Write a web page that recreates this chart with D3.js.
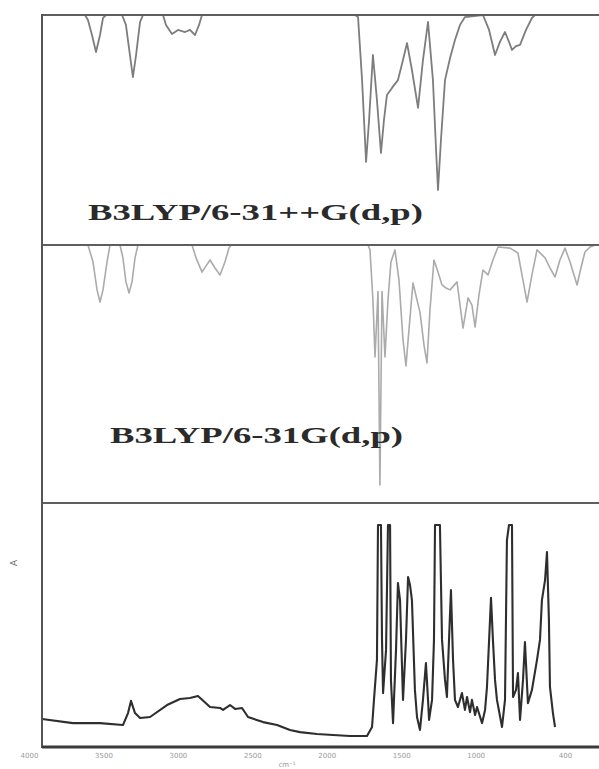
<!DOCTYPE html>
<html>
<head>
<meta charset="utf-8">
<script src="https://cdn.jsdelivr.net/npm/d3@7"></script>
<style>
  body { margin: 0; background: #fff; }
  #chart svg { display: block; }
</style>
</head>
<body>
<div id="chart"></div>
<script>
const chartWidth = 599;
const chartHeight = 769;

// panel labels and axis ticks
const labels = ["B3LYP/6-31++G(d,p)", "B3LYP/6-31G(d,p)"];
const tickValues = [4000, 3500, 3000, 2500, 2000, 1500, 1000, 400];

// calculated spectrum, 6-31++G(d,p): wavenumber (cm-1) / depth (% of panel)
const wn1 = [3913, 3624, 3604, 3577, 3550, 3523, 3503, 3483, 3375, 3349, 3322, 3302, 3281, 3254, 3234,
  3100, 3080, 3040, 2999, 2952, 2919, 2885, 2858, 2838, 1810, 1790, 1763, 1736, 1716, 1690, 1663, 1636,
  1616, 1596, 1562, 1522, 1488, 1461, 1428, 1387, 1354, 1320, 1287, 1266, 1253, 1233, 1206, 1172, 1139,
  1105, 1072, 951, 910, 870, 837, 803, 776, 756, 729, 702, 662, 622, 602, 172];
const depth1 = [0, 0, 2.2, 8.7, 16.1, 8.7, 1.3, 0, 0, 4.3, 17.4, 27.0, 17.4, 3.0, 0,
  0, 4.3, 8.3, 6.5, 7.4, 6.5, 8.7, 4.3, 0, 0, 0.9, 28.3, 63.9, 45.7, 17.4, 37.0, 60.0,
  45.7, 34.8, 31.7, 28.3, 19.6, 12.2, 23.9, 40.4, 19.6, 3.0, 28.3, 58.7, 76.1, 54.3, 28.3, 18.7, 10.9,
  4.3, 0.9, 0, 6.5, 17.4, 11.7, 7.4, 11.7, 15.2, 13.5, 13.0, 6.5, 1.3, 0, 0];

// calculated spectrum, 6-31G(d,p)
const wn2 = [3913, 3604, 3570, 3543, 3523, 3503, 3476, 3456, 3389, 3369, 3349, 3328, 3308, 3288, 3268,
  2905, 2878, 2838, 2811, 2784, 2751, 2717, 2684, 2657, 2643, 1723, 1710, 1690, 1676, 1656, 1643, 1629,
  1609, 1589, 1569, 1542, 1515, 1488, 1468, 1448, 1421, 1394, 1374, 1347, 1327, 1307, 1280, 1253, 1226,
  1199, 1172, 1125, 1105, 1085, 1051, 1025, 1004, 978, 951, 917, 884, 850, 769, 716, 689, 655, 622, 588,
  534, 501, 467, 434, 400, 366, 319, 293, 266, 232, 199, 172];
const depth2 = [0, 0, 6.6, 17.4, 22.1, 17.4, 6.6, 0, 0, 5.0, 14.3, 18.6, 14.3, 5.0, 0,
  0, 5.0, 10.5, 8.1, 5.8, 8.9, 11.6, 6.6, 1.2, 0, 0, 1.9, 21.3, 43.4, 18.0, 93.0, 18.0,
  43.4, 21.3, 6.6, 1.9, 13.6, 36.8, 46.9, 32.9, 14.7, 21.3, 26.0, 38.8, 45.7, 25.2, 5.8, 10.5, 15.5,
  16.7, 17.4, 14.3, 23.3, 32.2, 20.5, 23.3, 31.8, 19.4, 9.7, 11.6, 5.8, 0.8, 1.2, 3.1, 11.6, 22.1, 11.6, 1.9,
  5.0, 8.9, 12.4, 5.8, 1.2, 6.6, 15.5, 8.9, 2.7, 0.8, 0, 0];

// experimental spectrum: wavenumber / absorbance (% of panel)
const wn3 = [3913, 3705, 3523, 3369, 3335, 3315, 3288, 3254, 3187, 3073, 2986, 2919, 2865, 2784, 2717,
  2697, 2650, 2616, 2569, 2529, 2428, 2334, 2247, 2180, 2066, 1958, 1844, 1730, 1696, 1683, 1663, 1656,
  1636, 1629, 1622, 1602, 1589, 1575, 1569, 1555, 1535, 1522, 1508, 1488, 1468, 1454, 1441, 1428, 1408,
  1394, 1374, 1354, 1334, 1320, 1313, 1293, 1280, 1273, 1240, 1226, 1206, 1193, 1179, 1166, 1152, 1139,
  1119, 1092, 1072, 1058, 1038, 1025, 1004, 991, 957, 937, 924, 897, 884, 870, 857, 823, 803, 790, 776,
  756, 749, 729, 716, 702, 682, 669, 649, 622, 588, 568, 555, 534, 521, 508, 501, 481, 467];
const abs3 = [11.5, 9.8, 9.8, 9.0, 13.9, 18.9, 13.9, 11.9, 12.3, 17.2, 19.7, 20.1, 20.9, 16.4, 16.0,
  15.2, 17.2, 15.6, 16.0, 12.3, 10.2, 9.0, 7.0, 6.1, 5.3, 4.9, 4.5, 4.5, 8.2, 19.3, 35.7, 91.0,
  91.0, 43.9, 22.1, 39.8, 91.0, 91.0, 27.5, 9.8, 39.8, 67.2, 60.2, 19.3, 43.9, 69.7, 66.4, 60.2, 23.4,
  12.3, 7.0, 19.3, 34.4, 19.3, 11.1, 19.3, 43.9, 91.0, 91.0, 43.9, 27.5, 20.5, 43.9, 64.3, 35.7, 19.3,
  16.4, 22.1, 15.2, 20.5, 14.3, 19.3, 13.1, 16.4, 9.8, 15.2, 24.6, 61.1, 43.9, 27.5, 19.3, 8.2, 19.3, 84.8, 91.0,
  91.0, 20.5, 23.4, 30.3, 11.1, 27.5, 43.0, 18.0, 23.4, 35.7, 43.9, 60.2, 68.4, 79.9, 52.0, 24.6, 13.9, 8.2];

const frameLeft = 42;
const panels = [
  { top: 15, bottom: 245, wn: wn1, val: depth1, color: "#7d7d7d", width: 1.8, invert: true },
  { top: 245, bottom: 503, wn: wn2, val: depth2, color: "#ababab", width: 1.6, invert: true },
  { top: 503, bottom: 747, wn: wn3, val: abs3, color: "#2e2e2e", width: 2.1, invert: false }
];

const xScale = d3.scaleLinear().domain([4000, 400]).range([29, 565]);

const svg = d3
  .select("#chart")
  .append("svg")
  .attr("width", chartWidth)
  .attr("height", chartHeight);

svg
  .append("clipPath")
  .attr("id", "plot-clip")
  .append("rect")
  .attr("x", frameLeft)
  .attr("y", 15)
  .attr("width", chartWidth - frameLeft)
  .attr("height", 732);

panels.forEach(p => {
  const yScale = d3
    .scaleLinear()
    .domain([0, 100])
    .range(p.invert ? [p.top, p.bottom] : [p.bottom, p.top]);
  const points = p.wn.map((w, j) => [w, p.val[j]]);
  const line = d3
    .line()
    .x(d => xScale(d[0]))
    .y(d => yScale(d[1]));
  svg
    .append("path")
    .attr("clip-path", "url(#plot-clip)")
    .attr("d", line(points))
    .attr("fill", "none")
    .attr("stroke", p.color)
    .attr("stroke-width", p.width)
    .attr("stroke-linejoin", "round");
});

// frame lines
[15, 245, 503].forEach(y => {
  svg
    .append("line")
    .attr("x1", frameLeft)
    .attr("x2", chartWidth)
    .attr("y1", y)
    .attr("y2", y)
    .attr("stroke", "#5e5e5e")
    .attr("stroke-width", 2);
});
svg
  .append("line")
  .attr("x1", frameLeft)
  .attr("x2", frameLeft)
  .attr("y1", 14)
  .attr("y2", 748)
  .attr("stroke", "#555")
  .attr("stroke-width", 2);

// bottom axis
const xAxis = d3
  .axisBottom(xScale)
  .tickValues(tickValues)
  .tickSize(0)
  .tickPadding(6)
  .tickFormat(d3.format("d"));
const axisG = svg
  .append("g")
  .attr("transform", `translate(0,747)`)
  .call(xAxis);
axisG.select(".domain").remove();
axisG
  .selectAll("text")
  .attr("font-family", "DejaVu Sans, sans-serif")
  .attr("font-size", 7)
  .attr("fill", "#9a9a9a");
svg
  .append("line")
  .attr("x1", frameLeft)
  .attr("x2", chartWidth)
  .attr("y1", 747)
  .attr("y2", 747)
  .attr("stroke", "#3a3a3a")
  .attr("stroke-width", 3);

svg
  .append("text")
  .attr("x", 287)
  .attr("y", 767)
  .attr("text-anchor", "middle")
  .attr("font-family", "DejaVu Sans, sans-serif")
  .attr("font-size", 7)
  .attr("fill", "#999")
  .text("cm⁻¹");

svg
  .append("text")
  .attr("transform", "translate(17,563) rotate(-90)")
  .attr("text-anchor", "middle")
  .attr("font-family", "DejaVu Sans, sans-serif")
  .attr("font-size", 9)
  .attr("fill", "#666")
  .text("A");

// method labels
const labelPos = [
  { x: 88, y: 220, size: 24, len: 335 },
  { x: 110, y: 443, size: 23, len: 293 }
];
labels.forEach((t, i) => {
  svg
    .append("text")
    .attr("x", labelPos[i].x)
    .attr("y", labelPos[i].y)
    .attr("font-family", "Liberation Serif, Times New Roman, serif")
    .attr("font-weight", "bold")
    .attr("font-size", labelPos[i].size)
    .attr("textLength", labelPos[i].len)
    .attr("lengthAdjust", "spacingAndGlyphs")
    .attr("fill", "#2a2a2a")
    .text(t);
});
</script>
</body>
</html>
